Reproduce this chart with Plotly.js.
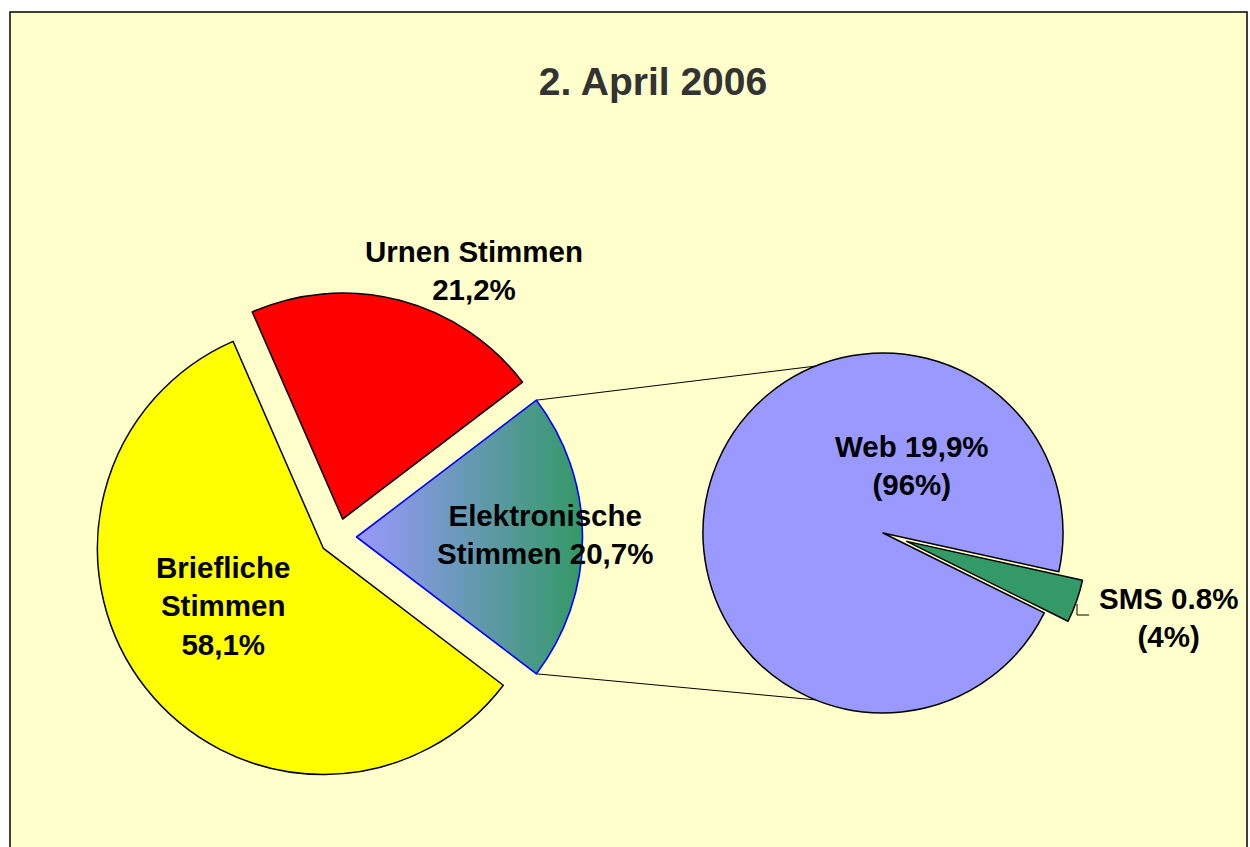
<!DOCTYPE html>
<html>
<head>
<meta charset="utf-8">
<script src="https://cdn.plot.ly/plotly-3.0.1.min.js"></script>
<style>html,body{margin:0;padding:0;background:#fff;}#chart{width:1250px;height:847px;}</style>
</head>
<body>
<div id="chart"></div>
<script>
// ---- data ----
const mainNames = ['Elektronische Stimmen', 'Briefliche Stimmen', 'Urnen Stimmen'];
const mainShares = [20.7, 58.1, 21.2];            // % of all votes
const mainColors = ['#339966', '#FFFF00', '#FF0000'];
const subNames = ['SMS', 'Web'];
const subShares = [0.8, 19.9];                    // % of all votes
const subOfElectronic = [4, 96];                  // % of electronic votes
const subColors = ['#339966', '#9999FF'];
const chartTitle = '2. April 2006';

// ---- layout constants (pixels) ----
const W = 1250, H = 847;
const FONT = 'Liberation Sans, Arial, Helvetica, sans-serif';
const c1 = {x: 338, y: 537}, r1 = 226, pull1 = 0.082;
const c2 = {x: 883, y: 533}, r2 = 180, pull2 = 0.14;
const connAngle = 112 * Math.PI / 180;

const px = x => x / W, py = y => 1 - y / H;
function domainFor(c, r, pull) {
  const h = r * (1 + pull);
  return {x: [px(c.x - h), px(c.x + h)], y: [py(c.y + h), py(c.y - h)]};
}
const comma = v => v.toFixed(1).replace('.', ',') + '%';

const mainTotal = mainShares.reduce((a, b) => a + b, 0);
const subTotal = subShares.reduce((a, b) => a + b, 0);
const halfElec = mainShares[0] / mainTotal * 180;      // degrees
const smsCenter = 109.4;                               // compass direction of SMS slice
const subRotation = smsCenter - subShares[0] / subTotal * 180;

const traces = [
  {
    type: 'pie', sort: false, direction: 'clockwise',
    rotation: 90 - halfElec,
    labels: mainNames, values: mainShares,
    pull: mainShares.map(() => pull1),
    marker: {colors: mainColors, line: {color: ['#0000FF', '#000000', '#000000'], width: [1.6, 1.5, 1.5]}},
    textinfo: 'none', hoverinfo: 'none', showlegend: false,
    domain: domainFor(c1, r1, pull1)
  },
  {
    type: 'pie', sort: false, direction: 'clockwise',
    rotation: subRotation,
    labels: subNames, values: subShares,
    pull: [pull2, 0],
    marker: {colors: subColors, line: {color: '#000000', width: 1.5}},
    textinfo: 'none', hoverinfo: 'none', showlegend: false,
    domain: domainFor(c2, r2, pull2)
  }
];

// connector lines from electronic slice corners to secondary pie
const hv = halfElec * Math.PI / 180;
const vx = c1.x + pull1 * r1, vy = c1.y;
const cornerTop = {x: vx + r1 * Math.cos(hv), y: vy - r1 * Math.sin(hv)};
const cornerBot = {x: vx + r1 * Math.cos(hv), y: vy + r1 * Math.sin(hv)};
const endTop = {x: c2.x + r2 * Math.cos(connAngle), y: c2.y - r2 * Math.sin(connAngle)};
const endBot = {x: c2.x + r2 * Math.cos(connAngle), y: c2.y + r2 * Math.sin(connAngle)};

const shapes = [
  {type: 'rect', xref: 'paper', yref: 'paper', x0: px(10), x1: px(1247), y0: py(12), y1: -0.2,
   fillcolor: '#FFFFCC', line: {color: '#000000', width: 1.5}, layer: 'below'},
  {type: 'line', xref: 'paper', yref: 'paper', x0: px(cornerTop.x), y0: py(cornerTop.y), x1: px(endTop.x), y1: py(endTop.y),
   line: {color: '#000000', width: 1}, layer: 'below'},
  {type: 'line', xref: 'paper', yref: 'paper', x0: px(cornerBot.x), y0: py(cornerBot.y), x1: px(endBot.x), y1: py(endBot.y),
   line: {color: '#000000', width: 1}, layer: 'below'},
  {type: 'path', xref: 'paper', yref: 'paper',
   path: 'M' + px(1077) + ',' + py(604) + ' L' + px(1077) + ',' + py(615) + ' L' + px(1089) + ',' + py(615),
   line: {color: '#000000', width: 1}, layer: 'above'}
];

const lblFont = {family: FONT, size: 29.5, color: '#000000'};
function ann(x, y, text) {
  return {xref: 'paper', yref: 'paper', x: px(x), y: py(y), xanchor: 'center', yanchor: 'middle',
          text: '<b>' + text + '</b>', showarrow: false, font: lblFont, align: 'center'};
}
const annotations = [
  ann(545, 534, 'Elektronische<br>Stimmen ' + comma(mainShares[0])),
  ann(223, 606, 'Briefliche<br>Stimmen<br>' + comma(mainShares[1])),
  ann(474, 270, 'Urnen Stimmen<br>' + comma(mainShares[2])),
  ann(1168, 617, subNames[0] + ' ' + subShares[0].toFixed(1) + '%<br>(' + subOfElectronic[0] + '%)'),
  ann(912, 465, subNames[1] + ' ' + comma(subShares[1]) + '<br>(' + subOfElectronic[1] + '%)')
];

const layout = {
  width: W, height: H,
  margin: {l: 0, r: 0, t: 0, b: 0},
  paper_bgcolor: '#FFFFFF',
  title: {text: '<b>' + chartTitle + '</b>', x: px(653), y: py(81), xref: 'paper', yref: 'paper',
          xanchor: 'center', yanchor: 'middle', font: {family: FONT, size: 39, color: '#333333'}},
  shapes: shapes,
  annotations: annotations,
  showlegend: false
};

Plotly.newPlot('chart', traces, layout, {staticPlot: true, displayModeBar: false}).then(gd => {
  // horizontal gradient fill for the electronic slice
  const svg = gd.querySelector('svg.main-svg');
  const NS = 'http://www.w3.org/2000/svg';
  let defs = svg.querySelector('defs');
  if (!defs) { defs = document.createElementNS(NS, 'defs'); svg.insertBefore(defs, svg.firstChild); }
  const g = document.createElementNS(NS, 'linearGradient');
  g.setAttribute('id', 'elecGrad');
  g.setAttribute('x1', '0'); g.setAttribute('y1', '0'); g.setAttribute('x2', '1'); g.setAttribute('y2', '0');
  [['0', '#9999FF'], ['1', '#339966']].forEach(([o, c]) => {
    const s = document.createElementNS(NS, 'stop');
    s.setAttribute('offset', o); s.setAttribute('stop-color', c);
    g.appendChild(s);
  });
  defs.appendChild(g);
  const firstTrace = gd.querySelector('.pielayer .trace');
  const slice = firstTrace && firstTrace.querySelector('.slice path.surface');
  if (slice) slice.style.fill = 'url(#elecGrad)';
});
</script>
</body>
</html>
